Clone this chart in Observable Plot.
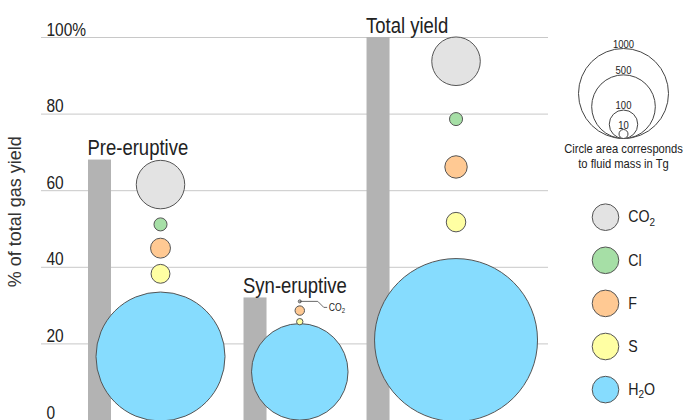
<!DOCTYPE html>
<html><head><meta charset="utf-8">
<script src="https://cdn.jsdelivr.net/npm/d3@7"></script>
<script src="https://cdn.jsdelivr.net/npm/@observablehq/plot@0.6"></script>
<style>
body{margin:0;background:#fff;}
#chart{position:relative;width:684px;height:420px;overflow:hidden;background:#fff;}
#chart svg{position:absolute;top:0;}
</style></head><body><div id="chart"></div>
<script>
// ---------- data ----------
const phases = ["Pre-eruptive", "Syn-eruptive", "Total yield"];
const phaseShare = [68, 32, 100];              // % of total gas yield (grey bars)
const gases = ["CO₂", "Cl", "F", "S", "H₂O"];
const gasColors = ["#e3e3e3", "#a6dfa6", "#ffc993", "#ffffa3", "#86dcfe"];
// fluid mass in Tg (circle area)
const massPre   = [290, 21, 49, 44, 2055];
const massSyn   = [1.1, 0, 11, 5, 1150];
const massTotal = [291, 21, 62, 47, 3280];
// vertical placement of each circle centre, in % of total gas yield
const yPre   = [61.6, 51.2, 45.0, 38.3, 16.7];
const ySyn   = [31.1, null, 28.7, 25.8, 12.7];
const yTotal = [93.8, 78.7, 66.2, 51.8, 21.0];
const yTicks = [0, 20, 40, 60, 80, 100];
const yTickLabels = ["0", "20", "40", "60", "80", "100%"];
const sizeLegendValues = [1000, 500, 100, 10];
const yTitle = "% of total gas yield";
const sizeCaption = ["Circle area corresponds", "to fluid mass in Tg"];

// ---------- layout ----------
const FONT = '"Liberation Sans",Arial,sans-serif';
const CONDENSE = 0.86;                          // narrow look (glyphs squeezed horizontally)
const W = 684, H = 420, ML = 41, MR = 136, MT = 37, MB = 0;
const pxPerPct = (H - MT - MB) / 100;
const R_MAX = 45;                               // radius of a 1000 Tg circle
const rOf = m => R_MAX * Math.sqrt(m / 1000);
const rScale = {type: "sqrt", domain: [0, 1000], range: [0, R_MAX]};

const masses = [massPre, massSyn, massTotal];
const ys = [yPre, ySyn, yTotal];
const barW = 23, firstInset = 47, circleInset = 7.5, groupGap = 19;
const groups = [];
let left = firstInset;
phases.forEach((p, i) => {
  const rH = rOf(masses[i][4]);
  const cx = left + circleInset + rH;
  groups.push({phase: p, share: phaseShare[i], x1: left, x2: left + barW, cx});
  left = cx + rH + groupGap;
});
const circles = [];
groups.forEach((g, i) => gases.forEach((gas, j) => {
  if (masses[i][j] > 0 && ys[i][j] != null)
    circles.push({phase: g.phase, gas, mass: masses[i][j], y: ys[i][j], cx: g.cx, color: gasColors[j]});
}));
const synCO2 = circles.find(c => c.phase === "Syn-eruptive" && c.gas === "CO₂");
const leader = [[0,0],[18,0],[24,6],[27,6]].map(([dx, dy]) => ({x: synCO2.cx + dx, y: synCO2.y - dy / pxPerPct}));

const main = Plot.plot({
  width: W, height: H, marginLeft: ML, marginRight: MR, marginTop: MT, marginBottom: MB,
  x: {domain: [0, W - ML - MR], axis: null},
  y: {domain: [0, 100], axis: null},
  r: rScale,
  style: {fontFamily: FONT, background: "transparent", overflow: "visible", color: "#222"},
  marks: [
    Plot.ruleY(yTicks, {stroke: "#c8c8c8", strokeWidth: 1}),
    Plot.text(yTicks, {y: d => d, text: (d, i) => yTickLabels[i], frameAnchor: "left", textAnchor: "start",
      lineAnchor: "bottom", dx: 5, dy: -2, fontSize: 18, fill: "#222"}),
    Plot.text([yTitle], {y: 54.5, text: d => d, frameAnchor: "left", rotate: -90, dx: -21, textAnchor: "middle",
      lineAnchor: "bottom", fontSize: 18, fill: "#333"}),
    Plot.rect(groups, {x1: "x1", x2: "x2", y1: 0, y2: "share", fill: "#b3b3b3"}),
    Plot.text(groups, {x: "x1", y: "share", text: "phase", textAnchor: "start", lineAnchor: "bottom",
      dy: -5, dx: -1, fontSize: 21.5, fill: "#222"}),
    Plot.dot(circles, {x: "cx", y: "y", r: "mass", fill: "color", stroke: "#555", strokeWidth: 1}),
    Plot.line(leader, {x: "x", y: "y", stroke: "#444", strokeWidth: 0.8}),
    Plot.text([leader[leader.length - 1]], {x: "x", y: "y", text: () => "CO₂", textAnchor: "start", lineAnchor: "middle",
      dx: 2, fontSize: 10, fill: "#222"})
  ]
});

// ---------- legend ----------
const LW = 124, LX = 560, legCx = 63, sizeBase = 138;
const gasY0 = 216.7, gasStep = 43.1, gasDotX = 45;
const legend = Plot.plot({
  width: LW, height: H, margin: 0,
  x: {domain: [0, LW], axis: null},
  y: {domain: [0, H], range: [0, H], axis: null},
  r: rScale,
  style: {fontFamily: FONT, background: "transparent", overflow: "visible", color: "#222"},
  marks: [
    Plot.dot(sizeLegendValues, {x: legCx, y: v => sizeBase - rOf(v), r: v => v, fill: "white", stroke: "#444", strokeWidth: 1}),
    Plot.text(sizeLegendValues, {x: legCx, y: v => sizeBase - 2 * rOf(v) - 1, text: d => String(d),
      lineAnchor: "bottom", fontSize: 11, fill: "#222"}),
    Plot.text(sizeCaption, {x: legCx, y: (d, i) => 152 + i * 15, text: d => d, lineAnchor: "bottom", fontSize: 13, fill: "#222"}),
    Plot.dot(gases, {x: gasDotX, y: (d, i) => gasY0 + i * gasStep, r: 13.3, fill: (d, i) => gasColors[i], stroke: "#555", strokeWidth: 1}),
    Plot.text(gases, {x: gasDotX + 22.7, y: (d, i) => gasY0 + i * gasStep, text: d => d, textAnchor: "start",
      lineAnchor: "middle", fontSize: 16.5, fill: "#222"})
  ]
});

function subscripts(svg) {
  d3.select(svg).selectAll("text").each(function () {
    const t = this.textContent;
    if (!t.includes("₂")) return;
    const parts = t.split("₂");
    const el = d3.select(this);
    el.text(null);
    parts.forEach((p, k) => {
      if (k > 0) {
        el.append("tspan").attr("font-size", "70%").attr("dy", "0.3em").text("2");
        if (p) el.append("tspan").attr("dy", "-0.21em").text(p);
      } else if (p) el.append("tspan").text(p);
    });
  });
}
subscripts(main); subscripts(legend);
const chart = document.getElementById("chart");
main.style.left = "0px";
legend.style.left = LX + "px";
chart.append(main, legend);
// condensed typeface look: squeeze every label except the axis title
chart.querySelectorAll("text").forEach(t => {
  if (t.textContent === yTitle) return;
  const w = t.getComputedTextLength();
  t.setAttribute("textLength", (w * CONDENSE).toFixed(2));
  t.setAttribute("lengthAdjust", "spacingAndGlyphs");
});
</script></body></html>
